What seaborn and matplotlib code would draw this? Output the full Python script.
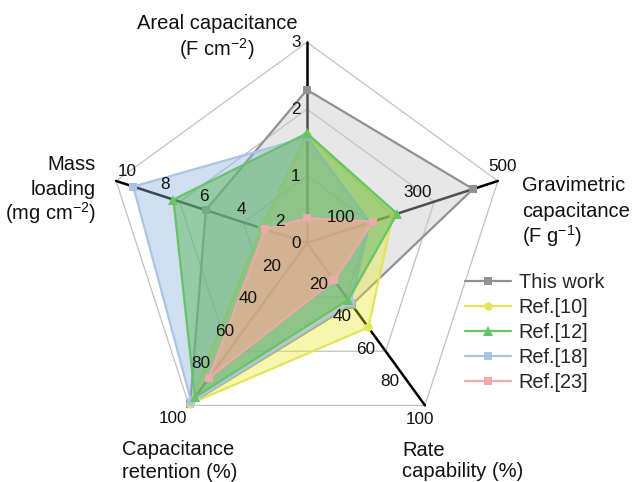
import numpy as np
import pandas as pd
import matplotlib
matplotlib.use("Agg")
import matplotlib.pyplot as plt
import seaborn as sns
from matplotlib.lines import Line2D

sns.set_theme(style="white")
plt.rcParams["font.family"] = ["Liberation Sans", "DejaVu Sans"]
plt.rcParams["mathtext.fontset"] = "custom"
plt.rcParams["mathtext.rm"] = "Liberation Sans"
plt.rcParams["mathtext.default"] = "regular"

# ---- data -------------------------------------------------------------
metrics = ["Areal capacitance", "Gravimetric capacitance", "Rate capability",
           "Capacitance retention", "Mass loading"]
metric_max = [3, 500, 100, 100, 10]

series_names = ["This work", "Ref.[10]", "Ref.[12]", "Ref.[18]", "Ref.[23]"]
this_work = [2.29, 435, 38, 99, 5.3]
ref_10 = [1.62, 225, 52, 99, 2.4]
ref_12 = [1.64, 236, 35, 95, 7.0]
ref_18 = [1.58, 165, 37, 98, 9.1]
ref_23 = [0.37, 173, 23, 83, 2.2]

tick_values = [[0, 1, 2, 3], [100, 300, 500], [20, 40, 60, 80, 100],
               [20, 40, 60, 80, 100], [2, 4, 6, 8, 10]]

# ---- styles -----------------------------------------------------------
styles = {
    "This work": dict(line="#919191", fill="#c4c4c4", alpha=0.40, marker="s", ms=6),
    "Ref.[10]": dict(line="#e4e45a", fill="#e8e820", alpha=0.36, marker="o", ms=6),
    "Ref.[18]": dict(line="#a9c5e6", fill="#88b0dc", alpha=0.40, marker="s", ms=6),
    "Ref.[12]": dict(line="#66c466", fill="#5cb85c", alpha=0.50, marker="^", ms=7),
    "Ref.[23]": dict(line="#eeaaaa", fill="#ffa898", alpha=0.60, marker="s", ms=6),
}
values = {"This work": this_work, "Ref.[10]": ref_10, "Ref.[12]": ref_12,
          "Ref.[18]": ref_18, "Ref.[23]": ref_23}
draw_order = ["This work", "Ref.[10]", "Ref.[18]", "Ref.[12]", "Ref.[23]"]

W, H = 633, 482
fig = plt.figure(figsize=(W / 100, H / 100), dpi=100)
cx, cy, R = 307, 243, 200.7
ax = fig.add_axes([(cx - R) / W, (H - cy - R) / H, 2 * R / W, 2 * R / H],
                  projection="polar")
ax.set_theta_zero_location("N")
ax.set_theta_direction(-1)
ax.set_ylim(0, 1)
ax.grid(False)
ax.spines["polar"].set_visible(False)
ax.set_facecolor("none")

n = len(metrics)
theta = np.linspace(0, 2 * np.pi, n, endpoint=False)
theta_closed = np.append(theta, theta[0] + 2 * np.pi)

# pentagon grid rings and spokes
for lvl in (1 / 3, 2 / 3, 1.0):
    ax.plot(theta_closed, [lvl] * (n + 1), color="#c2c2c2", lw=0.9, zorder=1,
            clip_on=False)
for t in theta:
    ax.plot([t, t], [0, 1], color="black", lw=1.8, zorder=1.5, clip_on=False)

# series polygons
z = 2
for name in draw_order:
    st = styles[name]
    frac = np.array(values[name], dtype=float) / np.array(metric_max)
    df = pd.DataFrame({"theta": theta_closed, "r": np.append(frac, frac[0])})
    ax.fill(df["theta"], df["r"], color=st["fill"], alpha=st["alpha"],
            lw=0, zorder=z)
    sns.lineplot(data=df, x="theta", y="r", sort=False, estimator=None,
                 color=st["line"], lw=1.6, marker=st["marker"],
                 markersize=st["ms"], markeredgewidth=0, ax=ax, legend=False,
                 zorder=z + 0.5, clip_on=False)
    z += 1
ax.set_xlabel("")
ax.set_ylabel("")
ax.set_xticks([])
ax.set_yticks([])
ax.set_ylim(0, 1)

# tick labels along each axis (offsets in pixels, y up)
offsets = [(-11, 0), (-4, 13), (-12, -9), (-12, 9), (11, 9)]
end_offsets = [(-11, 0), (5, 14), (-5, -14), (-16, -13), (11, 9)]
for i, ticks in enumerate(tick_values):
    for v in ticks:
        off = end_offsets[i] if v == metric_max[i] else offsets[i]
        ax.annotate(str(v), xy=(theta[i], v / metric_max[i]), xytext=off,
                    textcoords="offset pixels", ha="center", va="center",
                    fontsize=12.3, color="#111111", zorder=20,
                    annotation_clip=False)

# metric titles
tkw = dict(fontsize=14.5, color="#111111", va="baseline")
def ftext(x, y, s, ha):
    fig.text(x / W, 1 - y / H, s, ha=ha, **tkw)

ftext(217, 29, "Areal capacitance", "center")
ftext(217, 56, r"(F cm$^{-2}$)", "center")
ftext(522, 191, "Gravimetric", "left")
ftext(522, 217, "capacitance", "left")
ftext(522, 243, r"(F g$^{-1}$)", "left")
ftext(96, 170, "Mass", "right")
ftext(96, 195, "loading", "right")
ftext(96, 220, r"(mg cm$^{-2}$)", "right")
ftext(122, 455, "Capacitance", "left")
ftext(122, 478, "retention (%)", "left")
ftext(402, 456, "Rate", "left")
ftext(402, 477, "capability (%)", "left")

# legend
handles = [Line2D([0], [0], color=styles[s]["line"], lw=1.6,
                  marker=styles[s]["marker"], markersize=styles[s]["ms"],
                  markeredgewidth=0, markerfacecolor=styles[s]["line"])
           for s in series_names]
fig.legend(handles, series_names, loc="upper left",
           bbox_to_anchor=(465 / W, 1 - 273 / H), frameon=False,
           fontsize=14.3, handlelength=2.3, handletextpad=0.4,
           labelspacing=0.3, borderpad=0, borderaxespad=0)

fig.savefig("out.png", dpi=100, facecolor="white")
